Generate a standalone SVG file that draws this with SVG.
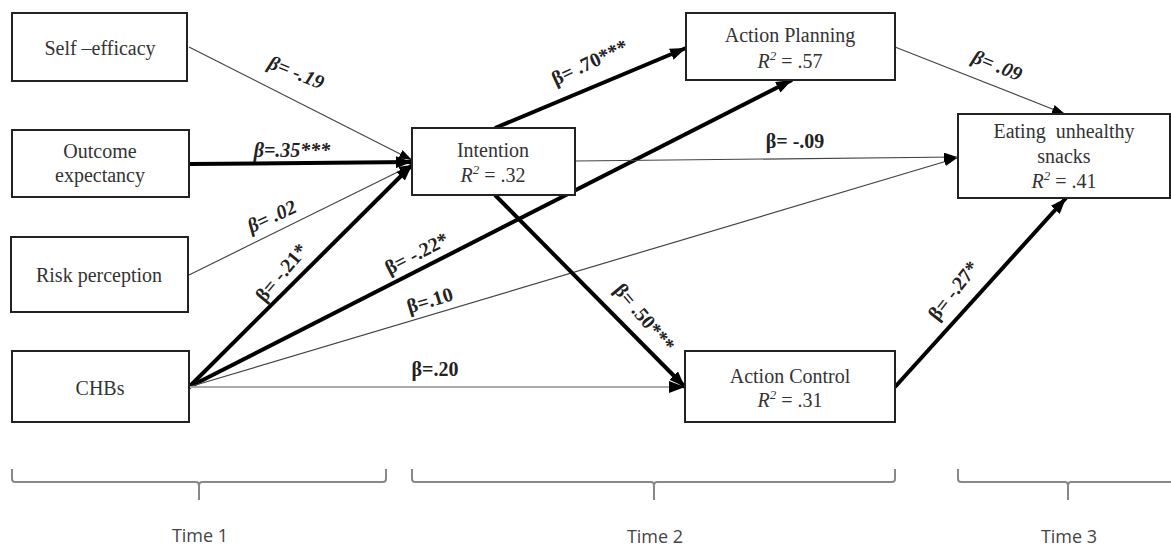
<svg xmlns="http://www.w3.org/2000/svg" width="1171" height="549" viewBox="0 0 1171 549">
<style>
.box{fill:#fff;stroke:#222;stroke-width:2}
.nt{font-family:"Liberation Serif","Times New Roman",serif;font-size:20px;fill:#333;text-anchor:middle}
.it{font-style:italic}
.thick{stroke:#000;stroke-width:4;fill:none}
.thin{stroke:#444;stroke-width:1.2;fill:none}
.grey{stroke:#aaa;stroke-width:2;fill:none}
.lb{font-family:"Liberation Serif","Times New Roman",serif;font-size:20px;font-weight:bold;fill:#222;text-anchor:middle}
.sl{font-style:italic}
.br{stroke:#888;stroke-width:2;fill:none}
.tm{font-family:"Open Sans","Liberation Sans",sans-serif;font-size:18px;fill:#444;text-anchor:middle}
</style>
<defs>
<marker id="ah" markerUnits="userSpaceOnUse" markerWidth="16" markerHeight="12" refX="16" refY="6" orient="auto"><path d="M0,0 L16,6 L0,12 z" fill="#000"/></marker>
<marker id="as" markerUnits="userSpaceOnUse" markerWidth="13" markerHeight="9" refX="13" refY="4.5" orient="auto"><path d="M0,0 L13,4.5 L0,9 z" fill="#000"/></marker>
</defs>
<rect width="1171" height="549" fill="#fff"/>
<g id="connectors">
<line class="thin" x1="189" y1="47" x2="412" y2="160" marker-end="url(#as)"/>
<line class="thick" x1="189" y1="164" x2="412" y2="162" marker-end="url(#ah)"/>
<line class="thin" x1="189" y1="275" x2="412" y2="165" marker-end="url(#as)"/>
<line class="thick" x1="189" y1="387" x2="412" y2="165" marker-end="url(#ah)"/>
<line class="thick" x1="189" y1="387" x2="792" y2="80" marker-end="url(#ah)"/>
<line class="thin" x1="189" y1="387" x2="957" y2="158" marker-end="url(#as)"/>
<line class="grey" x1="189" y1="387" x2="685" y2="387" marker-end="url(#ah)"/>
<line class="thick" x1="495" y1="128" x2="686" y2="48" marker-end="url(#ah)"/>
<line class="thin" x1="575" y1="161" x2="957" y2="157" marker-end="url(#as)"/>
<line class="thick" x1="495" y1="195" x2="685" y2="387" marker-end="url(#ah)"/>
<line class="thin" x1="895" y1="47" x2="1065" y2="114" marker-end="url(#as)"/>
<line class="thick" x1="895" y1="387" x2="1066" y2="198" marker-end="url(#ah)"/>
<text class="lb sl" transform="translate(296,73) rotate(22)" y="6">β= -.19</text>
<text class="lb sl" x="292" y="157">β=.35***</text>
<text class="lb sl" transform="translate(272,217) rotate(-25)" y="6">β= .02</text>
<text class="lb" transform="translate(282,273) rotate(-50)" y="6">β= -.21*</text>
<text class="lb" transform="translate(417,254) rotate(-27)" y="6">β= -.22*</text>
<text class="lb" transform="translate(430,301) rotate(-17)" y="6">β=.10</text>
<text class="lb" x="435" y="376">β=.20</text>
<text class="lb" transform="translate(590,63) rotate(-25)" y="6">β= .70***</text>
<text class="lb" x="795" y="148">β= -.09</text>
<text class="lb" transform="translate(644,318) rotate(50)" y="6">β= .50***</text>
<text class="lb sl" transform="translate(997,66) rotate(22)" y="6">β= .09</text>
<text class="lb" transform="translate(954,291) rotate(-52)" y="6">β= -.27*</text>
</g>
<g id="self-efficacy"><rect class="box" x="12" y="13" width="175" height="68"/><text class="nt" x="100" y="55">Self –efficacy</text></g>
<g id="outcome-expectancy"><rect class="box" x="12" y="130" width="177" height="67"/><text class="nt" x="100" y="158">Outcome</text><text class="nt" x="100" y="182">expectancy</text></g>
<g id="risk-perception"><rect class="box" x="11" y="237" width="177" height="75"/><text class="nt" x="99" y="282">Risk perception</text></g>
<g id="chbs"><rect class="box" x="12" y="351" width="177" height="71"/><text class="nt" x="100" y="395">CHBs</text></g>
<g id="intention"><rect class="box" x="412" y="128" width="163" height="67"/><text class="nt" x="493" y="157">Intention</text><text class="nt" x="493" y="182"><tspan class="it">R</tspan><tspan class="it" font-size="13" dy="-8">2</tspan><tspan dy="8"> = .32</tspan></text></g>
<g id="action-planning"><rect class="box" x="686" y="13" width="209" height="67"/><text class="nt" x="790" y="42">Action Planning</text><text class="nt" x="790" y="68"><tspan class="it">R</tspan><tspan class="it" font-size="13" dy="-8">2</tspan><tspan dy="8"> = .57</tspan></text></g>
<g id="eating-unhealthy-snacks"><rect class="box" x="958" y="114" width="212" height="84"/><text class="nt" x="1064" y="138">Eating&#160; unhealthy</text><text class="nt" x="1064" y="163">snacks</text><text class="nt" x="1064" y="188"><tspan class="it">R</tspan><tspan class="it" font-size="13" dy="-8">2</tspan><tspan dy="8"> = .41</tspan></text></g>
<g id="action-control"><rect class="box" x="685" y="351" width="210" height="71"/><text class="nt" x="790" y="383">Action Control</text><text class="nt" x="790" y="407"><tspan class="it">R</tspan><tspan class="it" font-size="13" dy="-8">2</tspan><tspan dy="8"> = .31</tspan></text></g>
<g id="time-1"><path class="br" d="M12,469 L12,479 Q12,482 15,482 L196,482 Q199,482 199,486 L199,500 M199,486 Q199,482 202,482 L383,482 Q386,482 386,479 L386,469"/><text class="tm" x="200" y="542">Time 1</text></g>
<g id="time-2"><path class="br" d="M412,469 L412,479 Q412,482 415,482 L651,482 Q654,482 654,486 L654,500 M654,486 Q654,482 657,482 L892,482 Q895,482 895,479 L895,469"/><text class="tm" x="655" y="543">Time 2</text></g>
<g id="time-3"><path class="br" d="M958,469 L958,479 Q958,482 961,482 L1065,482 Q1068,482 1068,486 L1068,500 M1068,486 Q1068,482 1071,482 L1171,482"/><text class="tm" x="1069" y="543">Time 3</text></g>
</svg>
